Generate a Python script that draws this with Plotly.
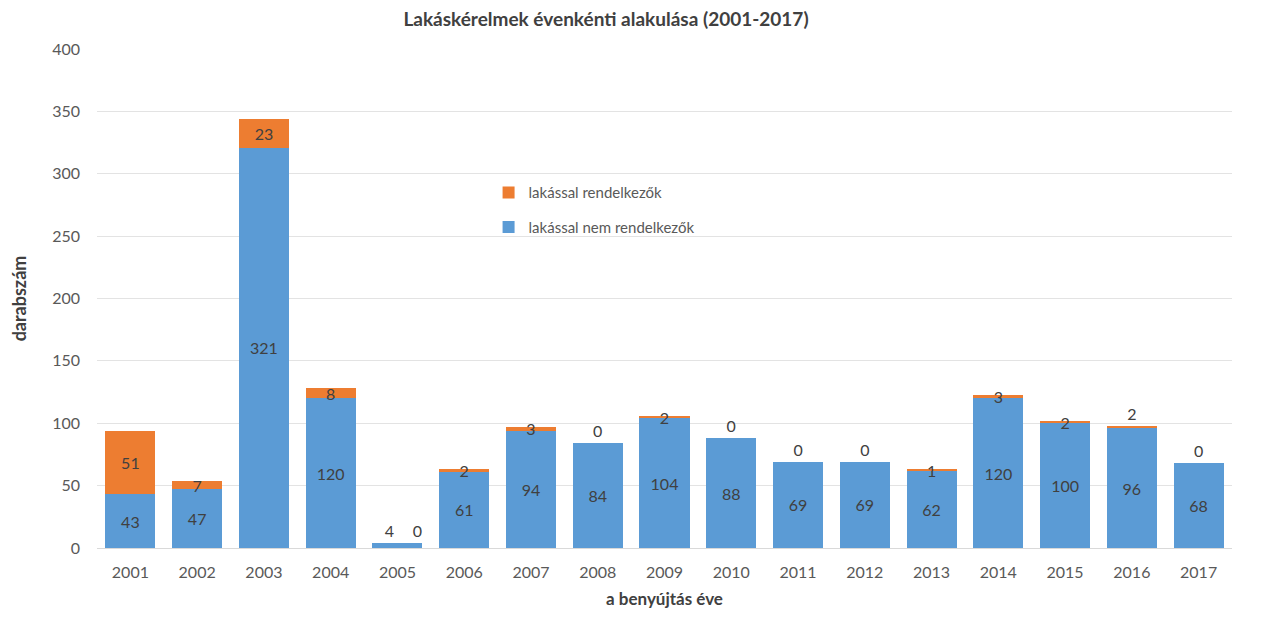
import plotly.graph_objects as go

years = [str(y) for y in range(2001, 2018)]
nem_rendelkezok = [43, 47, 321, 120, 4, 61, 94, 84, 104, 88, 69, 69, 62, 120, 100, 96, 68]
rendelkezok = [51, 7, 23, 8, 0, 2, 3, 0, 2, 0, 0, 0, 1, 3, 2, 2, 0]
y_ticks = [0, 50, 100, 150, 200, 250, 300, 350, 400]

blue = "#5B9BD5"
orange = "#ED7D31"
txt = "#404040"
font_fam = "Lato, 'Open Sans', sans-serif"

orange_pos = ["outside" if v == 0 else "inside" for v in rendelkezok]
orange_pos[15] = "outside"
blue_pos = ["inside"] * len(years)
blue_pos[4] = "outside"

# label strings from the values; 2005's two tiny labels are nudged apart as in the original
blue_text = [str(v) for v in nem_rendelkezok]
orange_text = [str(v) for v in rendelkezok]
blue_text[4] = blue_text[4] + "\u2002\u2002"
orange_text[4] = "\u2002" * 5 + orange_text[4]

fig = go.Figure()
fig.add_trace(go.Bar(
    x=years, y=nem_rendelkezok, name="lakással nem rendelkezők",
    legendgroup="b", legendrank=2,
    marker=dict(color=blue, line=dict(width=0)),
    text=blue_text, textposition=blue_pos, insidetextanchor="middle",
    constraintext="none", textangle=0, cliponaxis=False,
    textfont=dict(color=txt, size=16, family=font_fam),
))
fig.add_trace(go.Bar(
    x=years, y=rendelkezok, name="lakással rendelkezők",
    legendgroup="a", legendrank=1,
    marker=dict(color=orange, line=dict(width=0)),
    text=orange_text, textposition=orange_pos, insidetextanchor="middle",
    constraintext="none", textangle=0, cliponaxis=False,
    textfont=dict(color=txt, size=16, family=font_fam),
))

fig.update_layout(
    barmode="stack",
    bargap=0.25,
    width=1255, height=602,
    margin=dict(l=89, r=31, t=41, b=62),
    paper_bgcolor="white", plot_bgcolor="white",
    font=dict(family=font_fam, color="#595959", size=16),
    title=dict(text="<b>Lakáskérelmek évenkénti alakulása (2001-2017)</b>",
               xref="container", x=0.4765, xanchor="center",
               yref="container", y=0.993, yanchor="top",
               font=dict(size=19, color=txt)),
    legend=dict(x=0.345, y=0.745, xanchor="left", yanchor="top",
                traceorder="grouped", bgcolor="rgba(0,0,0,0)",
                font=dict(size=15, color="#595959"), tracegroupgap=12),
    showlegend=True,
)
fig.update_yaxes(
    range=[0, 400], tickvals=y_ticks, showgrid=True, gridcolor="#E3E3E3",
    zeroline=False, showline=False, ticks="", ticklabelstandoff=16,
    automargin=False,
    tickfont=dict(size=16, color="#595959"),
    title=dict(text="<b>darabszám</b>", font=dict(size=18, color=txt), standoff=20),
)
fig.update_xaxes(
    showline=True, linecolor="#D9D9D9", linewidth=1, ticks="",
    ticklabelstandoff=10, automargin=False,
    tickfont=dict(size=16, color="#595959"),
    title=dict(text="<b>a benyújtás éve</b>", font=dict(size=17, color=txt), standoff=12),
)

fig.write_html("out.html")
